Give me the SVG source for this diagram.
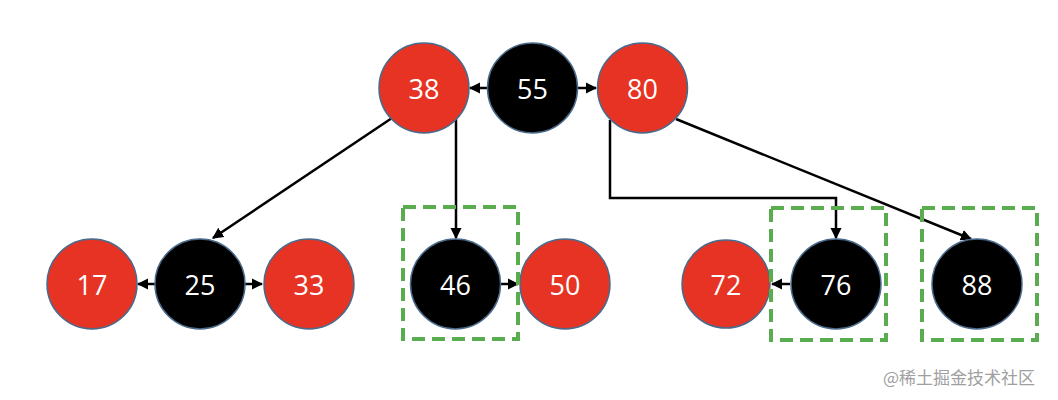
<svg xmlns="http://www.w3.org/2000/svg" width="1058" height="400" viewBox="0 0 1058 400">
<defs>
<marker id="ah" viewBox="0 0 10 10" refX="9" refY="5" markerWidth="4.5" markerHeight="4.5" orient="auto-start-reverse" markerUnits="strokeWidth">
<path d="M0,0 L10,5 L0,10 z" fill="#000"/>
</marker>
<style>
.red{fill:#e63323;stroke:#4a6a8c;stroke-width:1.5}
.blk{fill:#000;stroke:#4a6a8c;stroke-width:1.5}
.lbl{font-family:"Open Sans","Liberation Sans",sans-serif;font-size:27px;fill:#fff;text-anchor:middle;dominant-baseline:central}
.c{fill:none;stroke:#000;stroke-width:2.5;marker-end:url(#ah)}
.box{fill:none;stroke:#5aad4e;stroke-width:4;stroke-dasharray:13 7}
</style>
</defs>
<rect width="1058" height="400" fill="#fff"/>
<g id="connectors">
<line class="c" x1="487" y1="88" x2="470" y2="88"/>
<line class="c" x1="578" y1="88" x2="596" y2="88"/>
<line class="c" x1="155" y1="284" x2="138" y2="284"/>
<line class="c" x1="245" y1="284" x2="262" y2="284"/>
<line class="c" x1="501" y1="284" x2="518" y2="284"/>
<line class="c" x1="790" y1="284" x2="772" y2="284"/>
<line class="c" x1="392" y1="118" x2="213" y2="238"/>
<line class="c" x1="456" y1="118" x2="456" y2="238"/>
<polyline class="c" points="610,120 610,198 836,198 836,238"/>
<line class="c" x1="676" y1="119" x2="971" y2="239"/>
</g>
<g id="n38"><circle class="red" cx="424" cy="88" r="45"/><text class="lbl" x="424" y="88">38</text></g>
<g id="n55"><circle class="blk" cx="532.5" cy="88" r="45"/><text class="lbl" x="532.5" y="88">55</text></g>
<g id="n80"><circle class="red" cx="642.5" cy="88" r="45"/><text class="lbl" x="642.5" y="88">80</text></g>
<g id="n17"><circle class="red" cx="92" cy="284" r="45"/><text class="lbl" x="92" y="284">17</text></g>
<g id="n25"><circle class="blk" cx="200" cy="284" r="45"/><text class="lbl" x="200" y="284">25</text></g>
<g id="n33"><circle class="red" cx="309" cy="284" r="45"/><text class="lbl" x="309" y="284">33</text></g>
<g id="n46"><circle class="blk" cx="455.5" cy="284" r="45"/><text class="lbl" x="455.5" y="284">46</text></g>
<g id="n50"><circle class="red" cx="565" cy="284" r="45"/><text class="lbl" x="565" y="284">50</text></g>
<g id="n72"><circle class="red" cx="726" cy="284" r="44"/><text class="lbl" x="726" y="284">72</text></g>
<g id="n76"><circle class="blk" cx="836" cy="284" r="45"/><text class="lbl" x="836" y="284">76</text></g>
<g id="n88"><circle class="blk" cx="977" cy="284" r="45"/><text class="lbl" x="977" y="284">88</text></g>
<g id="boxes">
<rect class="box" x="403" y="207" width="115" height="132"/>
<rect class="box" x="771" y="208" width="115" height="132"/>
<rect class="box" x="922" y="208" width="115" height="132"/>
</g>
<text x="883" y="384" font-family="'Noto Sans CJK SC',sans-serif" font-size="17" fill="#a0a0a0">@稀土掘金技术社区</text>
</svg>
